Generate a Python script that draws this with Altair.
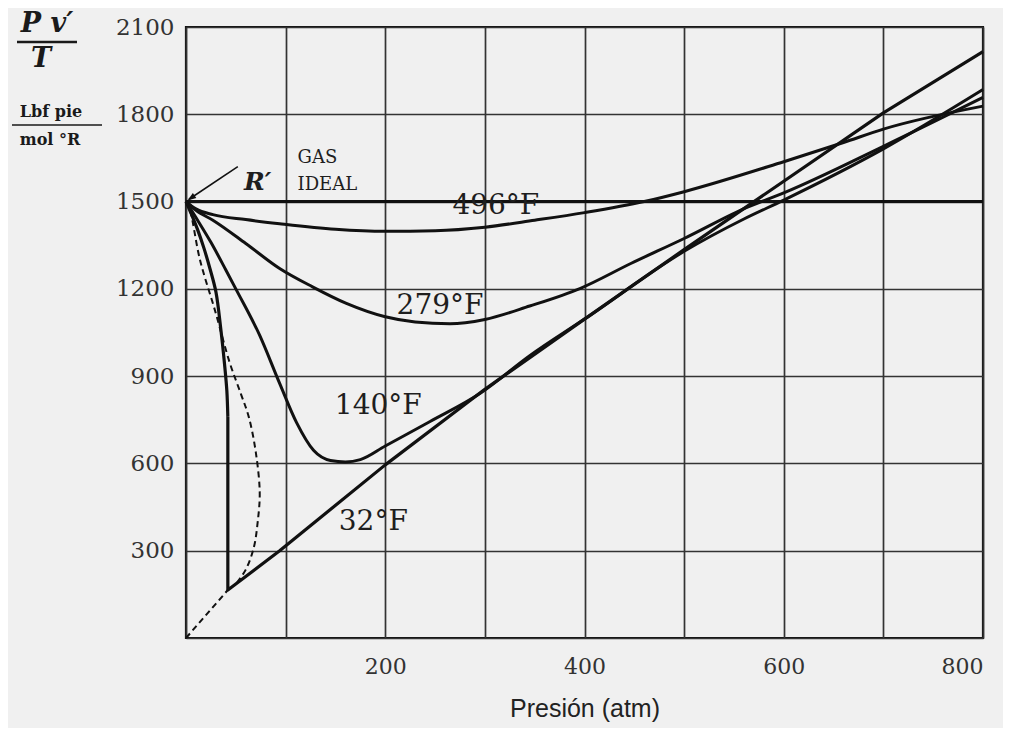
import altair as alt
import pandas as pd

# ---- data (P in atm, Pv'/T in lbf·pie/(mol·°R)) ----
P_IDEAL = [0, 800]
V_IDEAL = [1500, 1500]

P_496 = [0, 10, 27, 60, 94, 150, 200, 250, 300, 350, 400, 460, 500, 600, 660, 700, 800]
V_496 = [1500, 1475, 1455, 1438, 1424, 1405, 1398, 1400, 1412, 1436, 1462, 1500, 1534, 1637, 1703, 1749, 1828]

P_279 = [0, 10, 27, 60, 94, 127, 161, 200, 230, 265, 300, 345, 396, 447, 500, 563, 600, 700, 800]
V_279 = [1500, 1470, 1436, 1356, 1270, 1207, 1150, 1104, 1086, 1080, 1095, 1141, 1202, 1288, 1373, 1480, 1530, 1690, 1858]

P_140 = [0, 10, 25, 40, 50, 74, 94, 111, 128, 145, 160, 175, 200, 245, 295, 345, 400, 500, 560, 600, 700, 800]
V_140 = [1500, 1445, 1360, 1265, 1200, 1040, 875, 740, 645, 610, 605, 613, 660, 744, 840, 970, 1096, 1329, 1440, 1505, 1681, 1885]

# 32 °F: curved top part, then the vertical drop and the straight rise
P_32_TOP = [0, 5, 12, 18, 24, 30, 35, 39, 41, 42]
V_32_TOP = [1500, 1460, 1400, 1340, 1270, 1190, 1060, 930, 850, 760]
P_32_LOW = [42, 42, 94, 200, 300, 400, 500, 600, 700, 800]
V_32_LOW = [760, 165, 300, 595, 855, 1096, 1335, 1570, 1805, 2015]

# dashed saturation dome and dashed line from the origin
P_DOME = [0, 4, 14, 29, 44, 55, 63, 70, 74, 72, 68, 60, 50]
V_DOME = [1500, 1470, 1300, 1127, 945, 840, 760, 640, 500, 400, 310, 235, 185]
P_DASH0 = [0, 42]
V_DASH0 = [0, 165]

# arrow from R' to the intercept
P_ARROW = [3, 52]
V_ARROW = [1508, 1620]
P_HEAD = [1.5]
V_HEAD = [1504]

# curve labels
LBL_TEXT = ["496°F", "279°F", "140°F", "32°F"]
LBL_P = [311, 255, 193, 188]
LBL_V = [1486, 1142, 797, 399]

X_TICKS = list(range(0, 801, 100))
Y_TICKS = list(range(0, 2101, 300))

INK = "#111111"
GRID = "#333333"
SERIF = "DejaVu Serif"
ARROW_HEAD = "M0,0L1.02,-0.29L0.62,-0.86Z"


def frame(ps, vs, name):
    return pd.DataFrame({"p": ps, "v": vs, "s": name, "i": range(len(ps))})


xs = alt.Scale(domain=[0, 800], nice=False, zero=False)
ys = alt.Scale(domain=[0, 2100], nice=False, zero=False)

xaxis = alt.Axis(
    values=X_TICKS, grid=True, ticks=False, domain=False,
    gridColor=GRID, gridWidth=1.7, gridOpacity=1,
    labelExpr="datum.value % 200 == 0 && datum.value > 0 ? datum.value : ''",
    labelFont=SERIF, labelFontSize=22, labelColor="#333", labelPadding=18,
    title="Presión (atm)", titleFont="Liberation Sans", titleFontSize=25,
    titleFontWeight="normal", titleColor="#222", titlePadding=19,
)
yaxis = alt.Axis(
    values=Y_TICKS, grid=True, ticks=False, domain=False,
    gridColor=GRID, gridWidth=1.7, gridOpacity=1,
    labelExpr="datum.value > 0 ? datum.value : ''",
    labelFont=SERIF, labelFontSize=23, labelColor="#333", labelPadding=12,
    title=None,
)

X = alt.X("p:Q", scale=xs, axis=xaxis)
Y = alt.Y("v:Q", scale=ys, axis=yaxis)

smooth = pd.concat([
    frame(P_496, V_496, "496"),
    frame(P_279, V_279, "279"),
    frame(P_140, V_140, "140"),
])

l_ideal = alt.Chart(frame(P_IDEAL, V_IDEAL, "ideal")).mark_line(
    color=INK, strokeWidth=3).encode(x=X, y=Y)
l_smooth = alt.Chart(smooth).mark_line(
    color=INK, strokeWidth=3, interpolate="monotone").encode(
    x=X, y=Y, detail="s:N", order="i:Q")
l_32top = alt.Chart(frame(P_32_TOP, V_32_TOP, "32a")).mark_line(
    color=INK, strokeWidth=3.2, interpolate="catmull-rom").encode(x=X, y=Y, order="i:Q")
l_32low = alt.Chart(frame(P_32_LOW, V_32_LOW, "32b")).mark_line(
    color=INK, strokeWidth=3.2, strokeJoin="round").encode(x=X, y=Y, order="i:Q")
l_dome = alt.Chart(frame(P_DOME, V_DOME, "dome")).mark_line(
    color=INK, strokeWidth=2, strokeDash=[6, 4], interpolate="catmull-rom").encode(
    x=X, y=Y, order="i:Q")
l_dash0 = alt.Chart(frame(P_DASH0, V_DASH0, "d0")).mark_line(
    color=INK, strokeWidth=2, strokeDash=[6, 4]).encode(x=X, y=Y, order="i:Q")
l_arrow = alt.Chart(frame(P_ARROW, V_ARROW, "arrow")).mark_line(
    color=INK, strokeWidth=1.6).encode(x=X, y=Y, order="i:Q")
l_head = alt.Chart(frame(P_HEAD, V_HEAD, "head")).mark_point(
    shape=ARROW_HEAD, filled=True, color=INK, size=300, opacity=1).encode(x=X, y=Y)

lbl_df = pd.DataFrame({"p": LBL_P, "v": LBL_V, "t": LBL_TEXT})
t_curves = alt.Chart(lbl_df).mark_text(
    font=SERIF, fontSize=28, color="#1e1e1e", align="center", baseline="middle").encode(
    x=X, y=Y, text="t:N")

gas_df = pd.DataFrame({"p": [112, 112], "v": [1649, 1557], "t": ["GAS", "IDEAL"]})
t_gas = alt.Chart(gas_df).mark_text(
    font=SERIF, fontSize=18, color="#1e1e1e", align="left", baseline="middle").encode(
    x=X, y=Y, text="t:N")

r_df = pd.DataFrame({"p": [72], "v": [1566], "t": ["R′"]})
t_r = alt.Chart(r_df).mark_text(
    font=SERIF, fontSize=25, fontWeight="bold", fontStyle="italic", color="#1e1e1e",
    align="center", baseline="middle").encode(x=X, y=Y, text="t:N")

# y-axis title drawn as two stacked fractions to the left of the tick labels
def side_text(t, x, y, size, italic=False):
    return alt.Chart(pd.DataFrame({"t": [t]})).mark_text(
        font=SERIF, fontSize=size, fontWeight="bold",
        fontStyle="italic" if italic else "normal", color="#1a1a1a",
        align="center", baseline="middle").encode(
        x=alt.value(x), y=alt.value(y), text="t:N")

def side_bar(x1, x2, y, w):
    return alt.Chart(pd.DataFrame({"k": [0]})).mark_rule(color="#1a1a1a", strokeWidth=w).encode(
        x=alt.value(x1), x2=alt.value(x2), y=alt.value(y))

t_pv = side_text("P v′", -139, -3, 27, italic=True)
t_t = side_text("T", -145, 32, 27, italic=True)
b1 = side_bar(-169, -109, 15, 2.5)
t_lbf = side_text("Lbf pie", -135, 85, 16)
b2 = side_bar(-174, -84, 98, 1.5)
t_mol = side_text("mol °R", -136, 113, 16)

chart = alt.layer(
    l_ideal, l_smooth, l_32top, l_32low, l_dome, l_dash0, l_arrow, l_head,
    t_curves, t_gas, t_r, t_pv, t_t, b1, t_lbf, b2, t_mol,
).properties(
    width=797, height=611,
    autosize=alt.AutoSizeParams(type="none"),
    padding={"left": 178, "top": 19, "right": 20, "bottom": 90},
    background="#f0f0f0",
).configure_view(
    stroke="#111", strokeWidth=2.2, fill="#f0f0f0",
)

chart.save("out.html", embed_options={"renderer": "svg", "actions": False})
